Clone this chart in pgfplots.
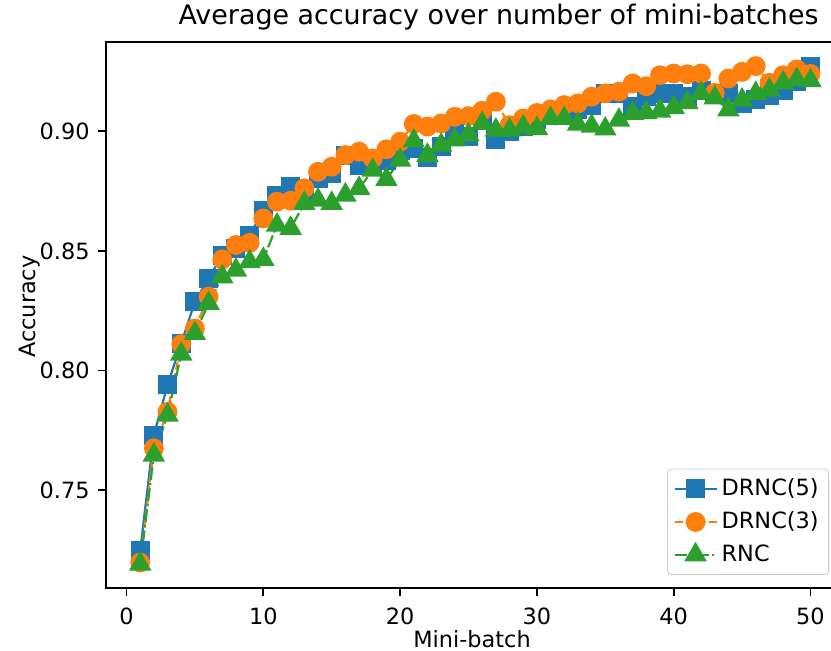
\documentclass[border=0pt]{standalone}
\usepackage{pgfplots}
\pgfplotsset{compat=1.18}
\usepackage{fontspec}
\setmainfont{DejaVu Sans}
\definecolor{mplblue}{HTML}{1F77B4}
\definecolor{mplorange}{HTML}{FF7F0E}
\definecolor{mplgreen}{HTML}{2CA02C}
\newcommand{\tickfont}{\fontsize{11.2}{13.4}\selectfont}
\newcommand{\titlefont}{\fontsize{13.45}{16}\selectfont}
\begin{document}
\begin{tikzpicture}
\useasboundingbox (0pt,0pt) rectangle (415.5pt,325.5pt);
\clip (0pt,0pt) rectangle (415.5pt,325.5pt);
\begin{axis}[
  at={(53pt,31.5pt)}, anchor=south west,
  scale only axis, width=369pt, height=273.15pt,
  xmin=-1.5, xmax=52.45, ymin=0.7091, ymax=0.9375,
  xtick={0,10,20,30,40,50},
  ytick={0.75,0.80,0.85,0.90},
  tick pos=left, tick align=outside,
  major tick length=4pt,
  every tick/.style={black, line width=0.9pt},
  axis line style={line width=0.9pt},
  /pgf/number format/assume math mode=true,
  yticklabel style={/pgf/number format/.cd, fixed, fixed zerofill, precision=2},
  xticklabel style={/pgf/number format/.cd, fixed},
  ticklabel style={font=\tickfont, inner sep=0pt},
  xticklabel shift=5.5pt, yticklabel shift=4pt,
  every axis title shift=0pt,
  title={Average accuracy over number of mini-batches},
  title style={font=\titlefont, at={(axis description cs:0.532,1.0306)}, anchor=base, inner sep=0pt},
  xlabel={Mini-batch},
  xlabel style={font=\tickfont, at={(axis description cs:0.496,-0.109)}, anchor=base, inner sep=0pt},
  ylabel={Accuracy},
  ylabel style={font=\tickfont, at={(axis description cs:-0.0949,0.515)}, anchor=base, inner sep=0pt},
  legend style={at={(axis description cs:0.9797,0.0238)}, anchor=south east,
    draw=black!20, rounded corners=2pt, fill=white,
    font=\tickfont, row sep=2.5pt, inner sep=3pt},
  legend cell align=left,
  legend image code/.code={\draw[mark repeat=2,mark phase=2,#1] plot coordinates {(0pt,0pt) (10.5pt,0pt) (21pt,0pt)};},
]
\addplot[mplblue, line width=1.1pt, solid, mark=square*, mark size=4.2pt,
  mark options={solid, fill=mplblue, draw=mplblue}] coordinates {
(1,0.7247)(2,0.7730)(3,0.7940)(4,0.8114)(5,0.8288)(6,0.8385)(7,0.8483)(8,0.8510)(9,0.8566)(10,0.8670)
(11,0.8734)(12,0.8769)(13,0.8745)(14,0.8803)(15,0.8824)(16,0.8901)(17,0.8858)(18,0.8860)(19,0.8880)(20,0.8922)
(21,0.8930)(22,0.8890)(23,0.8935)(24,0.9003)(25,0.8980)(26,0.9045)(27,0.8968)(28,0.9000)(29,0.9020)(30,0.9050)
(31,0.9068)(32,0.9082)(33,0.9090)(34,0.9110)(35,0.9159)(36,0.9160)(37,0.9105)(38,0.9145)(39,0.9159)(40,0.9159)
(41,0.9145)(42,0.9173)(43,0.9155)(44,0.9159)(45,0.9115)(46,0.9135)(47,0.9150)(48,0.9173)(49,0.9207)(50,0.9270)
};
\addlegendentry{DRNC(5)}
\addplot[mplorange, line width=1.1pt, dash pattern=on 4pt off 1.8pt, mark=*, mark size=4.4pt,
  mark options={solid, fill=mplorange, draw=mplorange}] coordinates {
(1,0.7197)(2,0.7675)(3,0.7828)(4,0.8110)(5,0.8176)(6,0.8309)(7,0.8465)(8,0.8525)(9,0.8534)(10,0.8636)
(11,0.8706)(12,0.8710)(13,0.8762)(14,0.8831)(15,0.8852)(16,0.8901)(17,0.8915)(18,0.8887)(19,0.8925)(20,0.8957)
(21,0.9031)(22,0.9020)(23,0.9033)(24,0.9061)(25,0.9064)(26,0.9086)(27,0.9124)(28,0.9026)(29,0.9054)(30,0.9077)
(31,0.9092)(32,0.9110)(33,0.9117)(34,0.9145)(35,0.9159)(36,0.9166)(37,0.9200)(38,0.9189)(39,0.9235)(40,0.9242)
(41,0.9239)(42,0.9242)(43,0.9161)(44,0.9221)(45,0.9249)(46,0.9273)(47,0.9203)(48,0.9235)(49,0.9259)(50,0.9240)
};
\addlegendentry{DRNC(3)}
\addplot[mplgreen, line width=1.1pt, dash pattern=on 6.4pt off 1.6pt on 1pt off 1.6pt, mark=triangle*, mark size=5.4pt,
  mark options={solid, fill=mplgreen, draw=mplgreen}] coordinates {
(1,0.7191)(2,0.7647)(3,0.7814)(4,0.8069)(5,0.8155)(6,0.8281)(7,0.8392)(8,0.8420)(9,0.8455)(10,0.8465)
(11,0.8608)(12,0.8595)(13,0.8699)(14,0.8713)(15,0.8699)(16,0.8734)(17,0.8762)(18,0.8838)(19,0.8799)(20,0.8880)
(21,0.8960)(22,0.8900)(23,0.8943)(24,0.8964)(25,0.8985)(26,0.9033)(27,0.9005)(28,0.9005)(29,0.9019)(30,0.9012)
(31,0.9054)(32,0.9054)(33,0.9030)(34,0.9022)(35,0.9010)(36,0.9047)(37,0.9075)(38,0.9078)(39,0.9085)(40,0.9100)
(41,0.9120)(42,0.9159)(43,0.9140)(44,0.9090)(45,0.9131)(46,0.9159)(47,0.9173)(48,0.9203)(49,0.9217)(50,0.9212)
};
\addlegendentry{RNC}
\end{axis}
\end{tikzpicture}
\end{document}
